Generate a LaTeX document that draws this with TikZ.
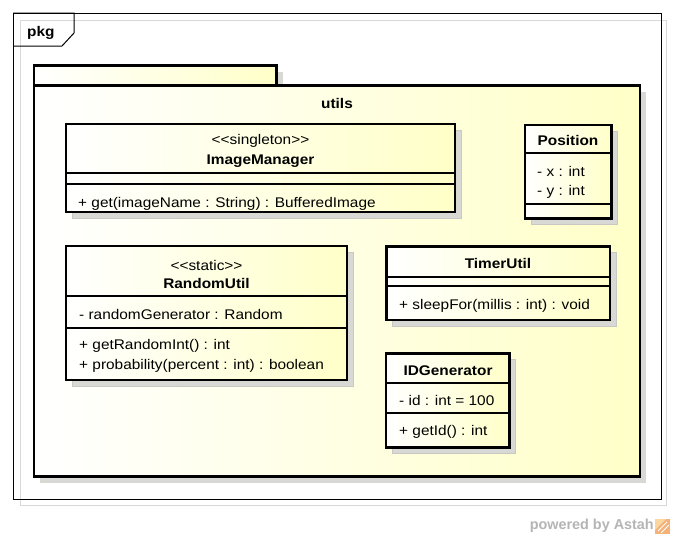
\documentclass[tikz,border=0pt]{standalone}
\usepackage{fontspec}
\setmainfont{Liberation Sans}[FakeStretch=1.1, Ligatures=TeXOff]
\newfontfamily\wmfont{Liberation Sans}
\usetikzlibrary{shadows}
\definecolor{ylw}{RGB}{255,255,200}
\definecolor{shd}{RGB}{216,216,212}
\definecolor{shdline}{RGB}{200,200,196}
\definecolor{wm}{RGB}{180,180,180}
\definecolor{peach}{RGB}{244,178,120}
\definecolor{peachl}{RGB}{252,214,160}
\begin{document}
\begin{tikzpicture}[x=1pt,y=-1pt,
  umlbox/.style={draw=black, line width=2.6pt, left color=white, right color=ylw,
    inner sep=0pt, outer sep=0pt, anchor=north west,
    copy shadow={shadow xshift=6pt, shadow yshift=-6pt, fill=shd, draw=shdline, line width=1pt}},
  sepline/.style={draw=black, line width=1.1pt},
  txt/.style={font=\fontsize{14}{16}\selectfont, inner sep=0pt, anchor=base west},
  ttl/.style={font=\fontsize{14}{16}\selectfont\bfseries, inner sep=0pt, anchor=base},
  ster/.style={font=\fontsize{14}{16}\selectfont, inner sep=0pt, anchor=base},
  pkgline/.style={draw=black, line width=2.6pt}]
\useasboundingbox (0,0) rectangle (673,538);
% outer frame
\draw[draw=shd, line width=1pt] (20,20) rectangle (666,505);
\draw[draw=black, line width=1pt] (13,13) rectangle (661,499);
\draw[draw=black, line width=1pt] (13,13) -- (74,13) -- (74,33) -- (62,46) -- (13,46);
\node[font=\fontsize{14}{16}\selectfont\bfseries, inner sep=0pt, anchor=base west] (pkg) at (27,36) {pkg};
% package utils
\fill[shd] (40,71.5) rectangle (282.5,91.5);
\fill[shd] (40,91.5) rectangle (646,482.5);
\path[pkgline, left color=white, right color=ylw] (34,65.5) rectangle (276.5,85.5);
\path[pkgline, left color=white, right color=ylw] (34,85.5) rectangle (640,476.5);
\node[ttl] (utils) at (337,108) {utils};
% ImageManager
\node[umlbox, minimum width=389pt, minimum height=88pt] (imbox) at (66,124) {};
\draw[sepline] (66,173) -- (455,173);
\draw[sepline] (66,184) -- (455,184);
\node[ster] (imst) at (260.5,144) {<<singleton>>};
\node[ttl] (imname) at (260.5,164) {ImageManager};
\node[txt] (imop) at (78,207) {+ get(imageName : String) : BufferedImage};
% Position
\node[umlbox, minimum width=86.5pt, minimum height=93.5pt] (posbox) at (525,125) {};
\draw[sepline] (525,153) -- (611.5,153);
\draw[sepline] (525,204) -- (611.5,204);
\node[ttl] (posname) at (568,145) {Position};
\node[txt] (posx) at (537,176) {- x : int};
\node[txt] (posy) at (537,195) {- y : int};
% RandomUtil
\node[umlbox, minimum width=281pt, minimum height=134pt] (rubox) at (66,246) {};
\draw[sepline] (66,296) -- (347,296);
\draw[sepline] (66,328) -- (347,328);
\node[ster] (rust) at (206.5,270) {<<static>>};
\node[ttl] (runame) at (206.5,288) {RandomUtil};
\node[txt] (ruattr) at (79,319) {- randomGenerator : Random};
\node[txt] (ruop1) at (79,349) {+ getRandomInt() : int};
\node[txt] (ruop2) at (79,369) {+ probability(percent : int) : boolean};
% TimerUtil
\node[umlbox, minimum width=223.5pt, minimum height=73.5pt] (tubox) at (386.5,246.5) {};
\draw[sepline] (386.5,277) -- (610,277);
\draw[sepline] (386.5,286) -- (610,286);
\node[ttl] (tuname) at (498,268) {TimerUtil};
\node[txt] (tuop) at (399,309) {+ sleepFor(millis : int) : void};
% IDGenerator
\node[umlbox, minimum width=123.5pt, minimum height=94pt] (idbox) at (386,353.5) {};
\draw[sepline] (386,383) -- (509.5,383);
\draw[sepline] (386,413) -- (509.5,413);
\node[ttl] (idname) at (448,375) {IDGenerator};
\node[txt] (idattr) at (399,405.5) {- id : int = 100};
\node[txt] (idop) at (399,435.5) {+ getId() : int};
% watermark
\node[font=\wmfont\fontsize{14.4}{16}\selectfont\bfseries, text=wm, inner sep=0pt, anchor=base east] (wmark) at (654,529) {powered by Astah};
\fill[peach] (655,519) rectangle (670,534);
\fill[peachl] (655,519) -- (666,519) -- (655,530) -- cycle;
\draw[white, line width=1pt] (658,531) -- (667,522);
\draw[white, line width=1pt] (661,533) -- (669,525);
\end{tikzpicture}
\end{document}
